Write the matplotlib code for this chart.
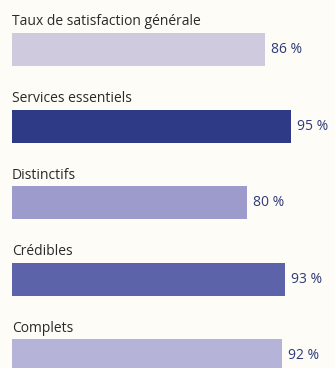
import matplotlib.pyplot as plt

categories = ['Taux de satisfaction générale', 'Services essentiels',
              'Distinctifs', 'Crédibles', 'Complets']
values = [86, 95, 80, 93, 92]
colors = ['#d0cadf', '#2f3a86', '#9d9bcb', '#5d63a9', '#b6b3d9']

fig = plt.figure(figsize=(3.35, 3.68), dpi=100, facecolor='#fdfcf6')
ax = fig.add_axes([0, 0, 1, 1])
ax.set_facecolor('#fdfcf6')

ypos = list(range(len(categories)))
bar_h = 0.43
ax.barh(ypos, values, height=bar_h, color=colors, left=0)

for y, cat, v in zip(ypos, categories, values):
    ax.text(0, y - bar_h / 2 - 0.1, cat, ha='left', va='baseline',
            fontsize=10, family='Open Sans', color='#2a2a2a')
    ax.text(v + 2, y, f'{v} %', ha='left', va='center',
            fontsize=10, family='Open Sans', color='#2f3a78')

ax.set_xlim(-12 / 2.94, (335 - 12) / 2.94)
ax.set_ylim((368 - 49.5) / 76.6, -49.5 / 76.6)
ax.axis('off')

fig.savefig('out.png', dpi=100, facecolor=fig.get_facecolor())
